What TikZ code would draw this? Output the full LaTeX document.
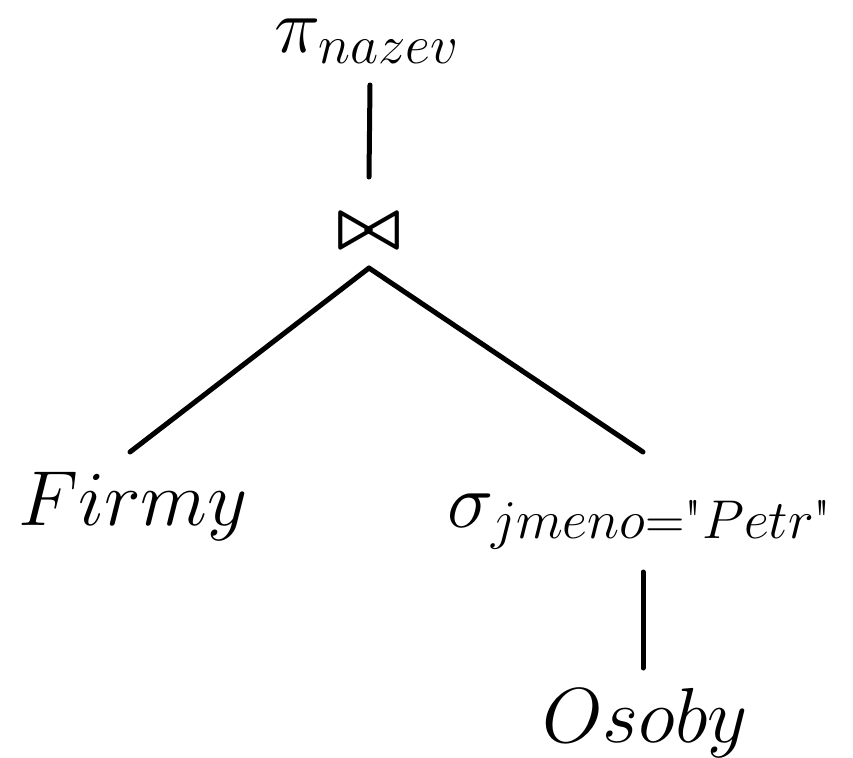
\RequirePackage{fix-cm}
\documentclass[tikz,border=0pt]{standalone}
\usepackage{amsmath}
\usepackage{fontspec}
\usetikzlibrary{calc}
\begin{document}
\begin{tikzpicture}[x=0.5pt,y=-0.5pt,
  lbl/.style={inner sep=0, anchor=base, font=\fontsize{39}{47}\selectfont},
  edge/.style={line width=2.5pt, line cap=round}]
\useasboundingbox (0,0) rectangle (853,757);
\node[lbl] (pi) at (367,52) {$\pi_{nazev}$};
\node[lbl, font=\fontsize{34}{40}\selectfont] (join) at (369,247) {$\boldsymbol{\bowtie}$};
\node[lbl] (firmy) at (133,525) {$Firmy$};
\node[lbl] (sigma) at (640,527) {$\sigma_{jmeno=\text{\textquotedbl}Petr\text{\textquotedbl}}$};
\node[lbl] (osoby) at (645,742) {$Osoby$};
\draw[edge] ($(pi.base)+(3,33)$) -- ($(join.base)+(0,-70)$);
\draw[edge] ($(join.base)+(0,21)$) -- ($(firmy.base)+(-3,-73)$);
\draw[edge] ($(join.base)+(0,21)$) -- ($(sigma.base)+(3,-75)$);
\draw[edge] ($(sigma.base)+(3,45)$) -- ($(osoby.base)+(-2,-74)$);
\end{tikzpicture}
\end{document}
